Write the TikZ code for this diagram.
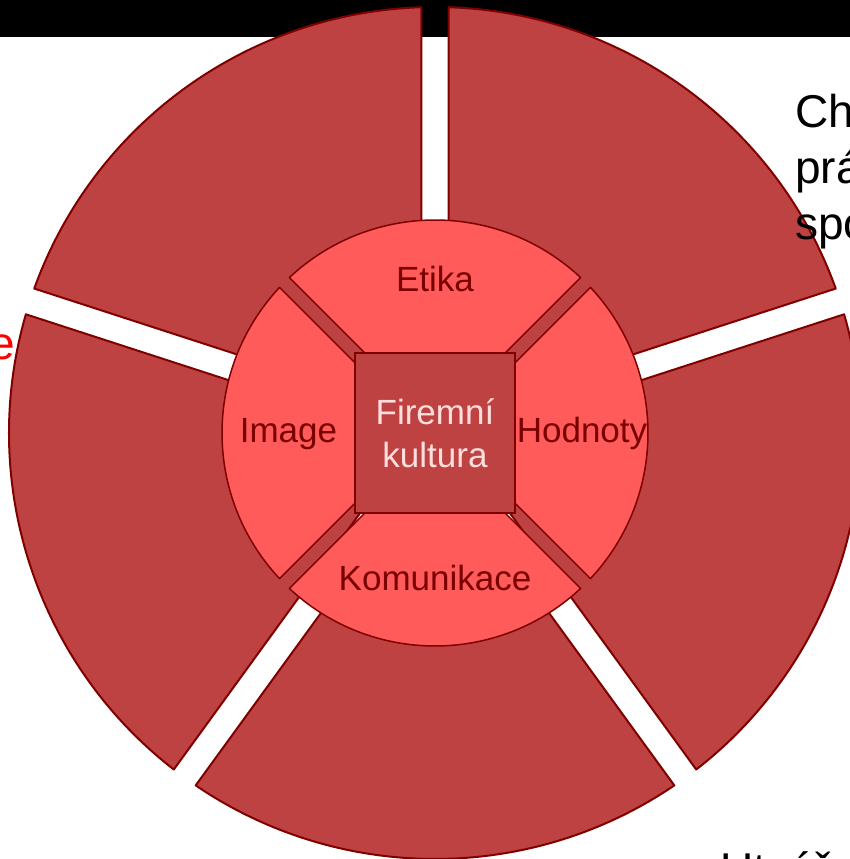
\documentclass[tikz,border=0pt]{standalone}
\usepackage{fontspec}
\setmainfont{Liberation Sans}

\definecolor{ringred}{RGB}{190,66,66}
\definecolor{lightred}{RGB}{255,91,91}
\definecolor{edgered}{RGB}{128,0,0}
\definecolor{textred}{RGB}{122,0,0}
\definecolor{pinktext}{RGB}{255,222,222}

\begin{document}
\begin{tikzpicture}[x=1pt, y=1pt,
ringseg/.style = {fill=ringred, draw=edgered, line width=2pt, line join=round},
innerseg/.style = {fill=lightred, draw=edgered, line width=1.5pt, line join=round},
seglabel/.style = {text=textred, inner sep=0, font=\fontsize{35}{43}\selectfont},
sidetext/.style = {inner sep=0, align=left, font=\fontsize{46}{56}\selectfont}]

\clip (-435,-426) rectangle (415,433);
\fill[black] (-435,395.5) rectangle (415,433);

% outer ring
\draw[ringseg] (54:23) -- (19.82:426) arc[start angle=19.82, end angle=88.18, radius=426] -- cycle;
\draw[ringseg] (126:23) -- (91.82:426) arc[start angle=91.82, end angle=160.18, radius=426] -- cycle;
\draw[ringseg] (198:23) -- (163.82:426) arc[start angle=163.82, end angle=232.18, radius=426] -- cycle;
\draw[ringseg] (270:23) -- (235.82:426) arc[start angle=235.82, end angle=304.18, radius=426] -- cycle;
\draw[ringseg] (342:23) -- (307.82:426) arc[start angle=307.82, end angle=376.18, radius=426] -- cycle;

% texts of the slide behind
\node[sidetext, anchor=base west] (chovani) at (360,193) {Chování\\práce\\spolupráce};
\node[sidetext, anchor=base east, text=red] (vize) at (-420,73) {Vize};
\node[sidetext, anchor=base west] (utvareni) at (285,-452) {Utváření};

% inner circle
\draw[innerseg] (90:9.9) -- (46.88:213) arc[start angle=46.88, end angle=133.12, radius=213] -- cycle;
\draw[innerseg] (180:9.9) -- (136.88:213) arc[start angle=136.88, end angle=223.12, radius=213] -- cycle;
\draw[innerseg] (270:9.9) -- (226.88:213) arc[start angle=226.88, end angle=313.12, radius=213] -- cycle;
\draw[innerseg] (0:9.9) -- (316.88:213) arc[start angle=316.88, end angle=403.12, radius=213] -- cycle;

\node[fill=ringred, draw=edgered, line width=2pt, minimum size=160pt, inner sep=0,
  align=center, text=pinktext, font=\fontsize{35}{43}\selectfont] (kultura) at (0,0) {Firemní\\kultura};

\node[seglabel, anchor=base] (etika) at (0,141) {Etika};
\node[seglabel, anchor=base] (image) at (-146.5,-10) {Image};
\node[seglabel, anchor=base] (hodnoty) at (147,-10) {Hodnoty};
\node[seglabel, anchor=base] (komunikace) at (0,-157) {Komunikace};
\end{tikzpicture}
\end{document}
